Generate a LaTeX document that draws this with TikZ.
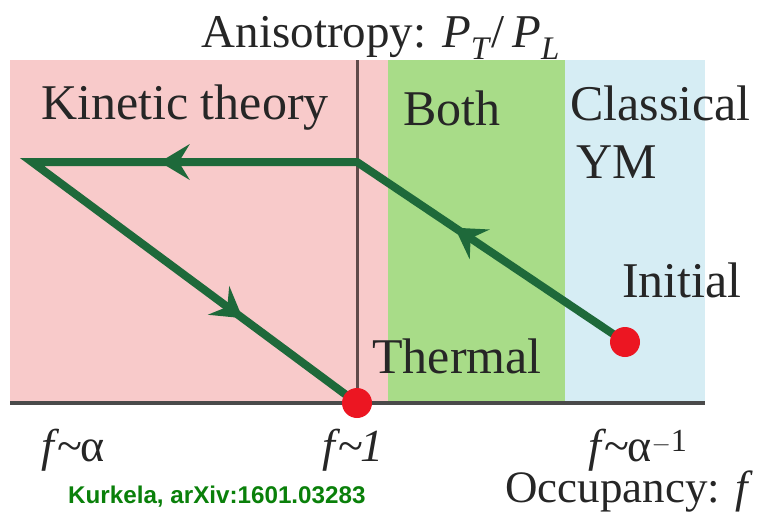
\documentclass[tikz,border=0pt]{standalone}
\usepackage{fontspec}
\setmainfont{Liberation Serif}
\newfontfamily\kursans{Liberation Sans}
\usetikzlibrary{arrows.meta,decorations.markings}
\definecolor{pinkbg}{RGB}{248,202,202}
\definecolor{greenbg}{RGB}{168,220,136}
\definecolor{bluebg}{RGB}{214,237,244}
\definecolor{pathgreen}{RGB}{30,105,58}
\definecolor{dotred}{RGB}{236,22,34}
\definecolor{vline}{RGB}{96,74,74}
\definecolor{axisgray}{RGB}{74,74,74}
\definecolor{citegreen}{RGB}{10,128,10}
\tikzset{
  lbl/.style={font=\fontsize{50}{54}\selectfont, text=black!85, inner sep=0pt},
  axlbl/.style={font=\fontsize{46}{50}\selectfont, text=black!85, inner sep=0pt, anchor=base},
  dot/.style={circle, fill=dotred, minimum size=30pt, inner sep=0pt},
  midtip/.tip={Stealth[length=30pt,width=36pt,inset=11pt,line width=0pt]},
  flow/.style={draw=pathgreen, line width=8pt, line join=miter, miter limit=20,
    postaction={decorate},
    decoration={markings,
      mark=at position 205pt with {\arrow{midtip}},
      mark=at position 520pt with {\arrow{midtip}},
      mark=at position 910pt with {\arrow{midtip}}}},
}
\newcommand{\tild}{\kern-2pt\textasciitilde\kern-2pt}
\begin{document}
\begin{tikzpicture}[x=1pt,y=-1pt]
\useasboundingbox (0,0) rectangle (757,515);
% background regions
\fill[pinkbg] (10,60) rectangle (388,403);
\fill[greenbg] (388,60) rectangle (565,403);
\fill[bluebg] (565,60) rectangle (705,403);
% vertical divider and axis
\coordinate (vtop) at (357,60);
\coordinate (vbot) at (357,403);
\coordinate (axl) at (10,403);
\coordinate (axr) at (705,403);
\draw[vline, line width=3pt] (vtop) -- (vbot);
\draw[axisgray, line width=4pt] (axl) -- (axr);
% flow path
\coordinate (init) at (625,342);
\coordinate (corner) at (357,162);
\coordinate (tip) at (32,162);
\coordinate (therm) at (357,403);
\draw[flow] (init) -- (corner) -- (tip) -- (therm);
\node[dot] (dinit) at (init) {};
\node[dot] (dtherm) at (therm) {};
% labels
\node[axlbl, font=\fontsize{47}{50}\selectfont] (title) at (381,47) {Anisotropy: \textit{P}\textsubscript{\textit{T}}/\,\textit{P}\textsubscript{\textit{L}}};
\node[lbl] (kin) at (185,108) {Kinetic theory};
\node[lbl] (both) at (452,108) {Both};
\node[lbl, anchor=west] (class) at (570,103) {Classical};
\node[lbl, anchor=west] (ym) at (576,162) {YM};
\node[lbl] (initl) at (682,280) {Initial};
\node[lbl] (therml) at (457,356) {Thermal};
\node[axlbl] (fa) at (73,461) {\textit{f}\tild α};
\node[axlbl] (f1) at (353,461) {\textit{f}\tild\textit{1}};
\node[axlbl] (fainv) at (638,461) {\textit{f}\tild α\textsuperscript{\(-\)1}};
\node[axlbl, font=\fontsize{45}{50}\selectfont, anchor=base east] (occ) at (753,502) {Occupancy: \textit{f}};
\node[font=\kursans\bfseries\fontsize{24.2}{28}\selectfont, text=citegreen, inner sep=0pt, anchor=base west] (cite) at (68,503) {Kurkela, arXiv:1601.03283};
\end{tikzpicture}
\end{document}
